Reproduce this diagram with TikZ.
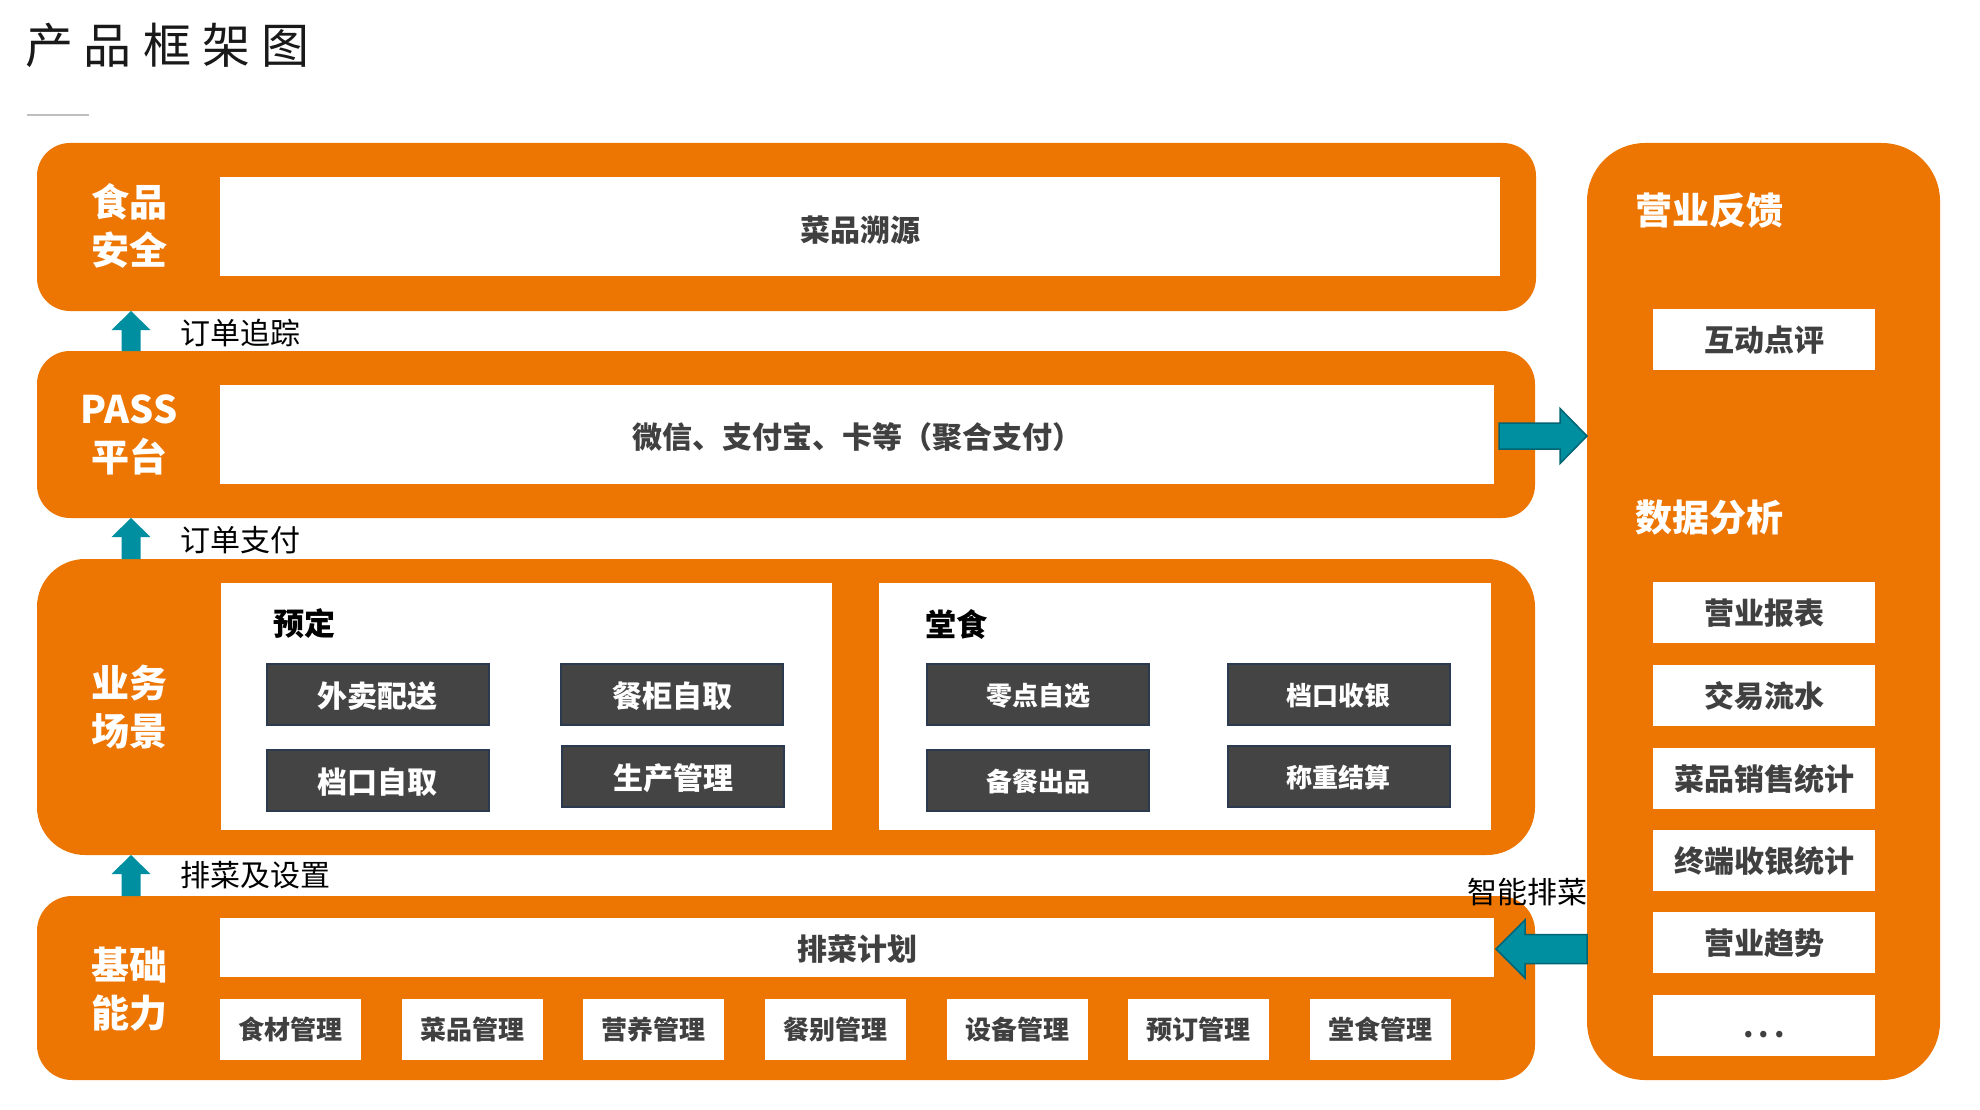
\documentclass[tikz,border=0pt]{standalone}
\usepackage{fontspec}
\setmainfont{Noto Sans CJK SC}
\usetikzlibrary{calc}
\definecolor{orng}{RGB}{237,118,2}
\definecolor{tealc}{RGB}{0,143,161}
\definecolor{tealdk}{RGB}{0,100,116}
\definecolor{darkbox}{RGB}{68,68,68}
\definecolor{darkedge}{RGB}{44,58,80}
\definecolor{txtgray}{RGB}{64,64,64}
\newcommand\fsz[1]{\fontsize{#1}{#1}\selectfont}
\newcommand\tealup[2]{\fill[tealc] ($(#1)+(-9.5,0)$) -- ($(#2)+(-9.5,19)$) -- ($(#2)+(-19.5,19)$) -- (#2) -- ($(#2)+(19.5,19)$) -- ($(#2)+(9.5,19)$) -- ($(#1)+(9.5,0)$) -- cycle;}
\begin{document}
\begin{tikzpicture}[x=1pt,y=-1pt,
  every node/.style={inner sep=0pt,outer sep=0pt},
  obox/.style={rectangle,fill=orng,rounded corners=#1},
  wbox/.style={rectangle,fill=white,text=txtgray,font=\fsz{30}\bfseries,text height=30pt,text depth=3.6pt},
  sbox/.style={rectangle,fill=white,text=txtgray,font=\fsz{26}\bfseries,text height=22.9pt,text depth=3.1pt,minimum width=141pt,minimum height=61pt},
  rbox/.style={wbox,text height=28pt,minimum width=222pt,minimum height=61pt},
  dbox/.style={rectangle,fill=darkbox,draw=darkedge,line width=2pt,text=white,font=\fsz{30}\bfseries,minimum width=222pt,minimum height=61pt,text height=30pt,text depth=3.6pt},
  dboxs/.style={dbox,font=\fsz{26}\bfseries,text height=27pt,text depth=3.1pt},
  side/.style={text=white,font=\fontsize{38}{48}\selectfont\bfseries,align=center},
  rtitle/.style={anchor=west,text=white,font=\fsz{37}\bfseries},
  lbl/.style={anchor=west,text=black,font=\fsz{30}},
  sect/.style={anchor=west,text=black,font=\fsz{31}\bfseries},
  blockarr/.style={fill=tealc,draw=tealdk,line width=1.5pt,line join=miter}]
\fill[white] (0,0) rectangle (1980,1110);
\useasboundingbox (0,0) rectangle (1980,1110);

% title
\node[anchor=west,text=black!90,font=\fsz{48}\addfontfeature{LetterSpace=23}] (title) at (25,45) {产品框架图};
\draw[black!25,line width=1.5pt] (27,115) -- (89,115);

% left layer boxes
\node[obox=33,minimum width=1499pt,minimum height=168pt] (fs) at (786.5,227) {};
\node[obox=33,minimum width=1498pt,minimum height=167pt] (pass) at (786,434.5) {};
\node[obox=48,minimum width=1498pt,minimum height=296pt] (biz) at (786,707) {};
\node[obox=35,minimum width=1498pt,minimum height=184pt] (base) at (786,988) {};
% right box
\node[obox=58,minimum width=353pt,minimum height=937pt] (fb) at (1763.5,611.5) {};

% side labels
\node[side] (fsl) at (129,226) {食品\\安全};
\node[side] (passl) at (129,435) {PASS\\平台};
\node[side] (bizl) at (129,707) {业务\\场景};
\node[side] (basel) at (129,989.5) {基础\\能力};

% white inner boxes
\node[wbox,text height=34pt,minimum width=1280pt,minimum height=99pt] (fsw) at (860,226.5) {菜品溯源};
\node[wbox,text height=31pt,minimum width=1274pt,minimum height=99pt] (passw) at (857,434.5) {微信、支付宝、卡等（聚合支付）};
\node[wbox,minimum width=611pt,minimum height=247pt] (bizL) at (526.5,706.5) {};
\node[wbox,minimum width=612pt,minimum height=247pt] (bizR) at (1185,706.5) {};
\node[wbox,minimum width=1274pt,minimum height=59pt] (plan) at (857,947.5) {排菜计划};

% base small boxes
\node[sbox] (m1) at (290.5,1029.5) {食材管理};
\node[sbox] (m2) at (472.5,1029.5) {菜品管理};
\node[sbox] (m3) at (653.5,1029.5) {营养管理};
\node[sbox] (m4) at (835.5,1029.5) {餐别管理};
\node[sbox] (m5) at (1017.5,1029.5) {设备管理};
\node[sbox] (m6) at (1198.5,1029.5) {预订管理};
\node[sbox] (m7) at (1380.5,1029.5) {堂食管理};

% business scenes
\node[sect] (yd) at (273,624) {预定};
\node[sect] (ts) at (925,624) {堂食};
\node[dbox] (d1) at (377.5,694) {外卖配送};
\node[dbox] (d2) at (672,694) {餐柜自取};
\node[dbox] (d3) at (377.5,780) {档口自取};
\node[dbox] (d4) at (673,776.5) {生产管理};
\node[dboxs] (d5) at (1038,694) {零点自选};
\node[dboxs] (d6) at (1338.5,694) {档口收银};
\node[dboxs] (d7) at (1038,780) {备餐出品};
\node[dboxs] (d8) at (1338.5,776) {称重结算};

% right column
\node[rtitle] (fbt) at (1635,211) {营业反馈};
\node[rbox] (r0) at (1764,339) {互动点评};
\node[rtitle] (dat) at (1635,518) {数据分析};
\node[rbox] (r1) at (1764,612.5) {营业报表};
\node[rbox] (r2) at (1764,695.5) {交易流水};
\node[rbox] (r3) at (1764,778) {菜品销售统计};
\node[rbox] (r4) at (1764,860.5) {终端收银统计};
\node[rbox] (r5) at (1764,942.5) {营业趋势};
\node[rbox] (r6) at (1764,1025.5) {.\,.\,.};

% up arrows
\coordinate (a1tail) at ($(pass.north west)+(94,0)$);
\coordinate (a1tip) at ($(fs.south west)+(94,0)$);
\coordinate (a2tail) at ($(biz.north west)+(94,0)$);
\coordinate (a2tip) at ($(pass.south west)+(94,0)$);
\coordinate (a3tail) at ($(base.north west)+(94,0)$);
\coordinate (a3tip) at ($(biz.south west)+(94,0)$);
\tealup{a1tail}{a1tip}
\tealup{a2tail}{a2tip}
\tealup{a3tail}{a3tip}
\node[lbl] (t1) at (180,333) {订单追踪};
\node[lbl] (t2) at (180,540) {订单支付};
\node[lbl] (t3) at (180,875) {排菜及设置};

% right arrow PASS -> feedback
\coordinate (r1tail) at ($(passw.east)+(5,1.5)$);
\coordinate (r1tip) at (fb.west |- r1tail);
\draw[blockarr] ($(r1tail)+(0,-13)$) -- ($(r1tip)+(-27,-13)$) -- ($(r1tip)+(-27,-27.5)$) -- (r1tip) -- ($(r1tip)+(-27,27.5)$) -- ($(r1tip)+(-27,13)$) -- ($(r1tail)+(0,13)$) -- cycle;

% left arrow feedback -> plan
\coordinate (l1tip) at ($(plan.east)+(2,1.5)$);
\coordinate (l1tail) at (fb.west |- l1tip);
\draw[blockarr] ($(l1tail)+(0,-14.5)$) -- ($(l1tip)+(29,-14.5)$) -- ($(l1tip)+(29,-29)$) -- (l1tip) -- ($(l1tip)+(29,29)$) -- ($(l1tip)+(29,14.5)$) -- ($(l1tail)+(0,14.5)$) -- cycle;
\node[lbl] (t4) at (1467,892) {智能排菜};
\end{tikzpicture}
\end{document}
